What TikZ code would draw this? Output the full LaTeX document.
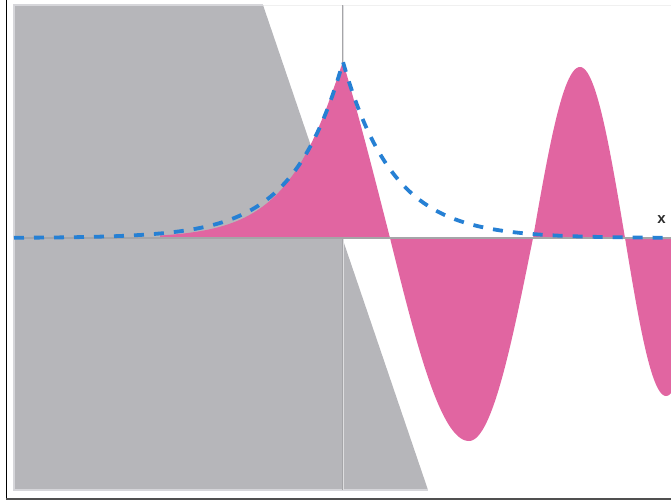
\documentclass[tikz,border=0pt]{standalone}
\usepackage{fontspec}
\setmainfont{Liberation Sans}
\definecolor{wavepink}{RGB}{225,101,161}
\definecolor{barrier}{RGB}{182,182,186}
\definecolor{barrieredge}{RGB}{214,214,218}
\definecolor{envblue}{RGB}{38,128,212}
\definecolor{axisgray}{RGB}{165,165,168}
\tikzset{
  framestyle/.style={line width=1.3pt, black},
  barrierstyle/.style={fill=barrier},
  barrierrim/.style={draw=barrieredge, line width=1.5pt},
  wallstyle/.style={draw=axisgray, double={rgb,255:red,222;green,222;blue,224}, double distance=1pt, line width=0.7pt},
  axisstyle/.style={draw=axisgray, line width=1.1pt},
  wavestyle/.style={fill=wavepink},
  envstyle/.style={draw=envblue, line width=3.8pt, dash pattern=on 10pt off 10pt},
  labelstyle/.style={text={rgb,255:red,45;green,45;blue,45}, font=\fontsize{15}{15}\selectfont\bfseries, inner sep=0pt}
}
\begin{document}
\begin{tikzpicture}[x=1pt, y=-1pt]
\useasboundingbox (0,0) rectangle (671,501);
% faint top line
\draw[draw={rgb,255:red,240;green,240;blue,240}, line width=1pt] (14,5) -- (671,5);
% barrier (linear potential)
\path[barrierstyle] (14,5) -- (263,5) -- (428,490) -- (14,490) -- cycle;
\draw[barrierrim] (263,5) -- (14,5) -- (14,490) -- (428,490);
% vertical wall line
\draw[wallstyle] (343,5) -- (343,490);
% wave
\fill[wavestyle] (160,238)
  -- plot[domain=160:343, samples=90] (\x, {238-176*exp(-1*pow((abs(343-\x)+0.01)/49,1.1))})
  -- plot[domain=343:390, samples=30] (\x, {238-350*sin(90*(390-\x)/140)})
  -- plot[domain=390:469, samples=40] (\x, {238+203*sin(90*(\x-390)/79)})
  -- plot[domain=469:533, samples=40] (\x, {238+203*sin(90*(533-\x)/64)})
  -- plot[domain=533:580, samples=30] (\x, {238-171*sin(90*(\x-533)/47)})
  -- plot[domain=580:625, samples=30] (\x, {238-171*sin(90*(625-\x)/45)})
  -- plot[domain=625:666, samples=30] (\x, {238+158*sin(90*(\x-625)/41)})
  -- plot[domain=666:671, samples=6] (\x, {238+158*sin(90*(707-\x)/41)})
  -- (671,238) -- cycle;
% axis
\draw[axisstyle] (14,238) -- (671,238);
% envelope
\draw[envstyle] plot[domain=14:343, samples=120] (\x, {238-176*exp((\x-343)/50)})
  -- plot[domain=343:671, samples=120] (\x, {238-176*exp((343-\x)/50)});
% label
\node[labelstyle] (xlabel) at (661.5,220) {x};
% frame
\draw[framestyle] (6.7,0) -- (6.7,498.5);
\draw[line width=2pt, draw={rgb,255:red,80;green,80;blue,80}] (6,498.5) -- (671,498.5);
\end{tikzpicture}
\end{document}
